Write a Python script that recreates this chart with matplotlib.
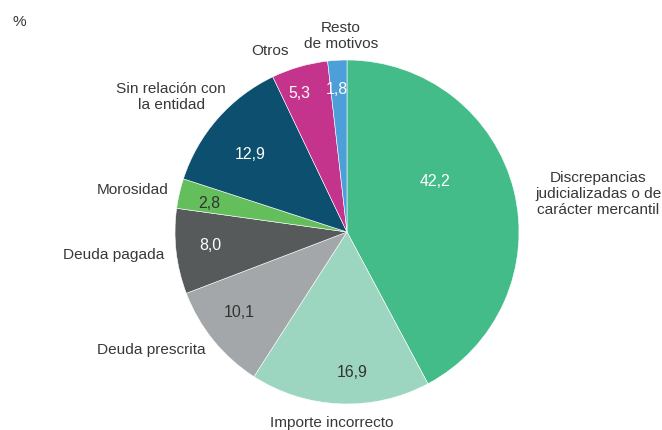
import numpy as np
import matplotlib
matplotlib.use("Agg")
import matplotlib.pyplot as plt

# data, clockwise from 12 o'clock
categories = [
    "Discrepancias\njudicializadas o de\ncarácter mercantil",
    "Importe incorrecto",
    "Deuda prescrita",
    "Deuda pagada",
    "Morosidad",
    "Sin relación con\nla entidad",
    "Otros",
    "Resto\nde motivos",
]
values = [42.2, 16.9, 10.1, 8.0, 2.8, 12.9, 5.3, 1.8]
value_labels = ["42,2", "16,9", "10,1", "8,0", "2,8", "12,9", "5,3", "1,8"]

colors = ["#43bc8a", "#9dd6c0", "#a3a7a9", "#575a5b",
          "#63be5b", "#0d4f6e", "#c5348c", "#4c9fd9"]
value_colors = ["white", "#333333", "#333333", "white",
                "#333333", "white", "white", "white"]

# label placement (radius, angle nudge in degrees, alignment)
in_r = [0.59, 0.82, 0.78, 0.80, 0.82, 0.72, 0.85, 0.83]
in_da = [15.5, 4.3, -2.3, -0.7, 1.1, 2.4, 2.8, 0.8]
out_r = [1.115, 1.113, 1.069, 1.072, 1.063, 1.054, 1.144, 1.14]
out_da = [-2.6, -2.2, 0.8, 0.7, -0.3, -6.9, 7.0, -1.5]
out_ha = ["left", "center", "right", "right", "right", "right", "center", "center"]

plt.rcParams['font.family'] = ['Liberation Sans', 'DejaVu Sans']
text_color = "#383838"

fig = plt.figure(figsize=(6.62, 4.30), dpi=100)
cx, cy, rad = 347, 232, 172
ax = fig.add_axes([(cx - rad) / 662, (430 - cy - rad) / 430, 2 * rad / 662, 2 * rad / 430])

wedges, _ = ax.pie(values, colors=colors, startangle=90, counterclock=False,
                   radius=1, wedgeprops=dict(edgecolor="white", linewidth=0.4))
ax.set_xlim(-1, 1)
ax.set_ylim(-1, 1)
ax.set_aspect("equal")
ax.axis("off")

for i, w in enumerate(wedges):
    mid = (w.theta1 + w.theta2) / 2
    a = np.deg2rad(mid + in_da[i])
    ax.text(in_r[i] * np.cos(a), in_r[i] * np.sin(a), value_labels[i],
            ha="center", va="center", fontsize=11.4, color=value_colors[i])
    b = np.deg2rad(mid + out_da[i])
    ha = out_ha[i]
    ax.text(out_r[i] * np.cos(b), out_r[i] * np.sin(b), categories[i],
            ha=ha, va="center", multialignment="center",
            fontsize=11.1, color=text_color, clip_on=False)

fig.text(12 / 662, 1 - 22 / 430, "%", fontsize=11.1, color=text_color, va="center")

fig.savefig("out.png", dpi=100)
